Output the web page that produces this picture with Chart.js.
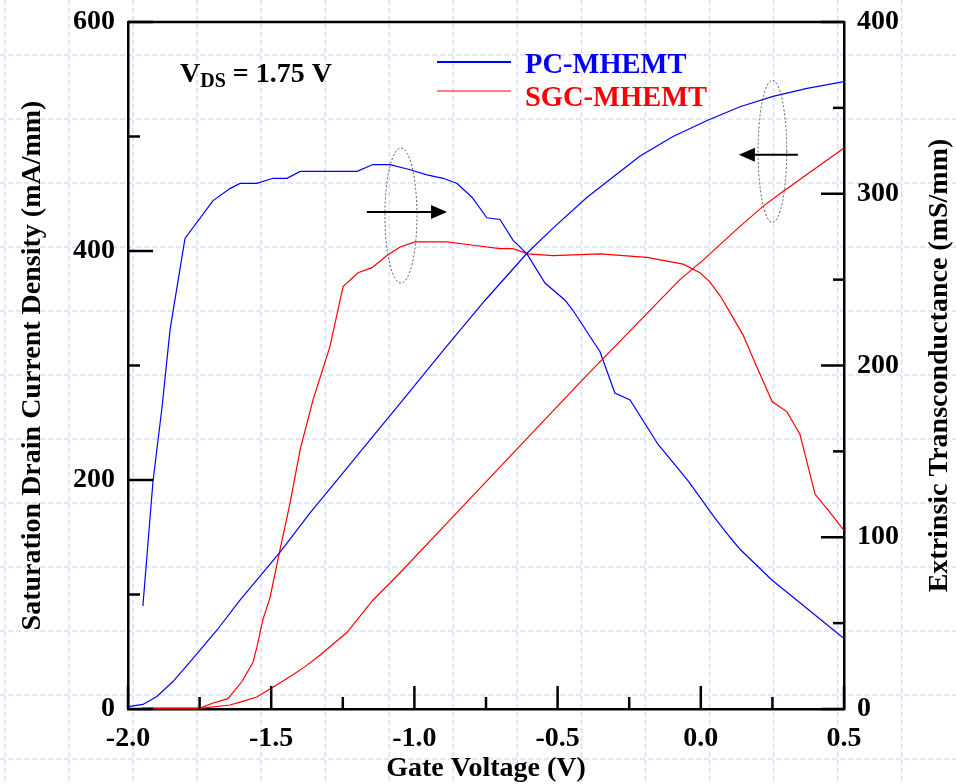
<!DOCTYPE html>
<html>
<head>
<meta charset="utf-8">
<script src="https://cdn.jsdelivr.net/npm/chart.js@4/dist/chart.umd.min.js"></script>
<style>
  html, body { margin: 0; padding: 0; background: #fff; }
  canvas { display: block; }
</style>
</head>
<body>
<canvas id="myChart" width="956" height="784"></canvas>
<script>
// Gate voltage (V) vs drain current (mA/mm) and transconductance (mS/mm)
const pcIdV = [-2.0, -1.948, -1.899, -1.843, -1.784, -1.689, -1.609, -1.469, -1.365, -1.26, -1.155, -1.05, -0.9, -0.753, -0.607, -0.516, -0.397, -0.212, -0.097, 0.022, 0.137, 0.252, 0.371, 0.5]
const pcId = [2, 4, 11, 24, 41, 69, 95, 137, 171, 203, 235, 267, 313, 357, 398, 420, 447, 483, 500, 514, 526, 535, 542, 548]

const sgcIdV = [-1.95, -1.749, -1.644, -1.609, -1.55, -1.494, -1.424, -1.382, -1.33, -1.235, -1.145, -1.05, -0.865, -0.638, -0.415, -0.073, 0.008, 0.13, 0.217, 0.287, 0.5]
const sgcId = [0.5, 0.5, 3.5, 6, 10.5, 19, 30, 37, 47, 67, 95, 119, 168, 228, 287, 375, 392, 420, 439, 452, 490]

const pcGmV = [-1.948, -1.913, -1.881, -1.853, -1.801, -1.703, -1.644, -1.609, -1.55, -1.494, -1.445, -1.399, -1.33, -1.2, -1.145, -1.085, -1.015, -0.956, -0.9, -0.851, -0.799, -0.747, -0.701, -0.656, -0.607, -0.544, -0.474, -0.446, -0.352, -0.3, -0.247, -0.149, -0.045, 0.05, 0.102, 0.137, 0.249, 0.301, 0.5]
const pcGm = [60, 132, 176, 221, 274, 296, 303, 306, 306, 309, 309, 313, 313, 313, 317, 317, 314, 311, 309, 306, 298, 286, 285, 273, 265, 248, 238, 232, 208, 184, 180, 154, 133, 111, 100, 93, 75, 68, 41]

const sgcGmV = [-1.95, -1.749, -1.703, -1.651, -1.602, -1.564, -1.55, -1.529, -1.504, -1.469, -1.434, -1.399, -1.354, -1.295, -1.249, -1.197, -1.148, -1.096, -1.05, -0.998, -0.886, -0.795, -0.701, -0.656, -0.603, -0.516, -0.352, -0.188, -0.062, -0.003, 0.03, 0.07, 0.112, 0.147, 0.196, 0.249, 0.301, 0.346, 0.399, 0.444, 0.5]
const sgcGm = [0.5, 0.5, 3.5, 6, 16, 27, 36, 52, 65, 93, 120, 151, 180, 211, 246, 254, 257, 264, 269, 272, 272, 270, 268, 268, 265, 264, 265, 263, 259, 254, 249, 240, 228, 218, 199, 179, 173, 160, 125, 116, 104]

const seriesNames = ['PC-MHEMT', 'SGC-MHEMT']
const seriesColors = ['#0000ff', '#ff0000']

const xMinorTicks = [-1.75, -1.25, -0.75, -0.25, 0.25]
const leftMinorTicks = [100, 300, 500]
const rightMinorTicks = [50, 150, 250, 350]

// ellipse groups: [centre V, centre mA, half width V, half height mA]
const ellipses = [[-1.047, 431, 0.056, 59], [0.25, 487, 0.05, 62]]
// arrows: [from V, to V, at mA]
const arrows = [[-1.166, -0.886, 434], [0.339, 0.133, 484]]

const serif = "'Liberation Serif', 'Times New Roman', serif"

function pts(xs, ys) {
    return xs.map((x, i) => ({x: x, y: ys[i]}))
}

const decor = {
    id: 'decor',
    beforeDraw: (chart) => {
        const {ctx, width, height} = chart
        ctx.save()
        ctx.fillStyle = '#fff'
        ctx.fillRect(0, 0, width, height)
        // graph paper
        ctx.strokeStyle = 'rgba(195, 208, 248, 0.7)'
        ctx.lineWidth = 1.5
        ctx.setLineDash([5, 3])
        for (let x = 5; x < width; x += 64.05) {
            ctx.beginPath(); ctx.moveTo(x, 0); ctx.lineTo(x, height); ctx.stroke()
        }
        for (let y = 55; y < height; y += 64) {
            ctx.beginPath(); ctx.moveTo(0, y); ctx.lineTo(width, y); ctx.stroke()
        }
        ctx.restore()
    },
    afterDraw: (chart) => {
        const {ctx, chartArea: {top, bottom, left, right}, scales: {x, y, y1}} = chart
        ctx.save()
        ctx.strokeStyle = 'black'
        ctx.lineWidth = 2.5
        // top frame
        ctx.beginPath(); ctx.moveTo(left, top); ctx.lineTo(right, top); ctx.stroke()

        // inward tick marks
        const mark = (scale, values, len) => {
            values.forEach(v => {
                const p = scale.getPixelForValue(v)
                ctx.beginPath()
                if (scale.axis === 'x') { ctx.moveTo(p, bottom); ctx.lineTo(p, bottom - len) }
                else if (scale.position === 'left') { ctx.moveTo(left, p); ctx.lineTo(left + len, p) }
                else { ctx.moveTo(right, p); ctx.lineTo(right - len, p) }
                ctx.stroke()
            })
        }
        mark(x, x.ticks.map(t => t.value), 23)
        mark(x, xMinorTicks, 12)
        mark(y, y.ticks.map(t => t.value), 25)
        mark(y, leftMinorTicks, 12)
        mark(y1, y1.ticks.map(t => t.value), 23)
        mark(y1, rightMinorTicks, 11)

        // ellipses
        ctx.lineWidth = 1
        ctx.strokeStyle = '#555'
        ctx.setLineDash([2, 2])
        ellipses.forEach(e => {
            const cx = x.getPixelForValue(e[0]), cy = y.getPixelForValue(e[1])
            const rx = x.getPixelForValue(e[0] + e[2]) - cx
            const ry = cy - y.getPixelForValue(e[1] + e[3])
            ctx.beginPath(); ctx.ellipse(cx, cy, rx, ry, 0, 0, Math.PI * 2); ctx.stroke()
        })
        ctx.setLineDash([])

        // arrows
        ctx.strokeStyle = 'black'
        ctx.fillStyle = 'black'
        ctx.lineWidth = 2
        arrows.forEach(a => {
            const x0 = x.getPixelForValue(a[0]), x1 = x.getPixelForValue(a[1]), ay = y.getPixelForValue(a[2])
            const dir = Math.sign(x1 - x0)
            ctx.beginPath(); ctx.moveTo(x0, ay); ctx.lineTo(x1 - dir * 10, ay); ctx.stroke()
            ctx.beginPath()
            ctx.moveTo(x1, ay); ctx.lineTo(x1 - dir * 16, ay - 7); ctx.lineTo(x1 - dir * 16, ay + 7)
            ctx.closePath(); ctx.fill()
        })

        // legend
        ctx.textAlign = 'left'
        ctx.textBaseline = 'alphabetic'
        ctx.font = 'bold 28.5px ' + serif
        const legY = [62, 91], legBase = [73, 106], legW = [2, 1.2]
        seriesNames.forEach((name, i) => {
            ctx.strokeStyle = seriesColors[i]
            ctx.lineWidth = legW[i]
            ctx.beginPath(); ctx.moveTo(437, legY[i]); ctx.lineTo(511, legY[i]); ctx.stroke()
            ctx.fillStyle = seriesColors[i]
            ctx.fillText(name, 525, legBase[i])
        })

        // V_DS label
        ctx.fillStyle = 'black'
        ctx.font = 'bold 28px ' + serif
        ctx.fillText('V', 180, 82)
        let px = 180 + ctx.measureText('V').width
        ctx.font = 'bold 20px ' + serif
        ctx.fillText('DS', px, 87)
        px += ctx.measureText('DS').width
        ctx.font = 'bold 28px ' + serif
        ctx.fillText(' = 1.75 V', px, 82)

        // axis titles
        ctx.textAlign = 'center'
        ctx.fillText('Gate Voltage (V)', (left + right) / 2, 776)
        const midY = (top + bottom) / 2
        ctx.translate(40, midY); ctx.rotate(-Math.PI / 2)
        ctx.fillText('Saturation Drain Current Density (mA/mm)', 0, 0)
        ctx.setTransform(1, 0, 0, 1, 0, 0)
        ctx.translate(947, midY); ctx.rotate(-Math.PI / 2)
        ctx.fillText('Extrinsic Transconductance (mS/mm)', 0, 0)
        ctx.restore()
    }
}

const tickFont = {family: serif, size: 28, weight: 'bold'}
const axisBorder = {display: true, color: 'black', width: 2.5}
const noGrid = {display: false, drawTicks: false}

// fix the plot frame: no extra room for half tick labels
function fixBox(s, w, h) {
    if (w !== null) s.width = w
    if (h !== null) s.height = h
    s.paddingTop = 0
    s.paddingBottom = 0
    s.paddingLeft = 0
    s.paddingRight = 0
}

const ctx = document.getElementById('myChart').getContext('2d')
const myChart = new Chart(ctx, {
    type: 'line',
    data: {
        datasets: [
            {label: seriesNames[0], data: pts(pcIdV, pcId), yAxisID: 'y', borderColor: seriesColors[0]},
            {label: seriesNames[1], data: pts(sgcIdV, sgcId), yAxisID: 'y', borderColor: seriesColors[1]},
            {label: seriesNames[0], data: pts(pcGmV, pcGm), yAxisID: 'y1', borderColor: seriesColors[0]},
            {label: seriesNames[1], data: pts(sgcGmV, sgcGm), yAxisID: 'y1', borderColor: seriesColors[1]}
        ]
    },
    options: {
        responsive: false,
        animation: false,
        layout: {padding: {top: 22, left: 0, right: 0, bottom: 0}},
        elements: {
            line: {borderWidth: 1.2, tension: 0, fill: false},
            point: {radius: 0}
        },
        scales: {
            x: {
                type: 'linear', position: 'bottom', min: -2, max: 0.5,
                ticks: {stepSize: 0.5, font: tickFont, color: 'black', padding: 13, maxRotation: 0,
                    callback: v => v.toFixed(1)},
                grid: noGrid, border: axisBorder,
                afterFit: s => fixBox(s, null, 75)
            },
            y: {
                position: 'left', min: 0, max: 600,
                ticks: {stepSize: 200, font: tickFont, color: 'black', padding: 13},
                grid: noGrid, border: axisBorder,
                afterFit: s => fixBox(s, 128, null)
            },
            y1: {
                position: 'right', min: 0, max: 400,
                ticks: {stepSize: 100, font: tickFont, color: 'black', padding: 13},
                grid: noGrid, border: axisBorder,
                afterFit: s => fixBox(s, 112, null)
            }
        },
        plugins: {
            legend: {display: false},
            tooltip: {enabled: false}
        }
    },
    plugins: [decor]
})
</script>
</body>
</html>
